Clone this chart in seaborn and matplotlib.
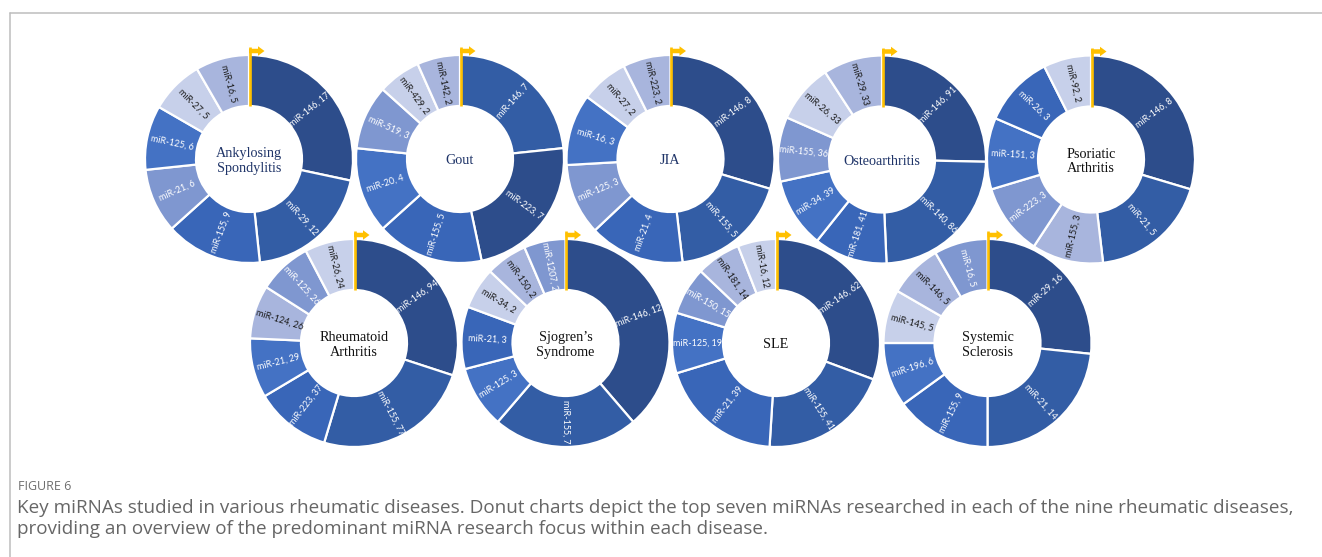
import math
import matplotlib
matplotlib.use("Agg")
import matplotlib.pyplot as plt
from matplotlib.patches import FancyArrow
import seaborn as sns

# ---- data: top seven miRNAs per disease (miRNA, number of studies) ----
diseases = ["Ankylosing\nSpondylitis", "Gout", "JIA", "Osteoarthritis",
            "Psoriatic\nArthritis", "Rheumatoid\nArthritis",
            "Sjogren\u2019s\nSyndrome", "SLE", "Systemic\nSclerosis"]

as_mirnas = ["miR-146", "miR-29", "miR-155", "miR-21", "miR-125", "miR-27", "miR-16"]
as_counts = [17, 12, 9, 6, 6, 5, 5]
gout_mirnas = ["miR-146", "miR-223", "miR-155", "miR-20", "miR-519", "miR-429", "miR-142"]
gout_counts = [7, 7, 5, 4, 3, 2, 2]
jia_mirnas = ["miR-146", "miR-155", "miR-21", "miR-125", "miR-16", "miR-27", "miR-223"]
jia_counts = [8, 5, 4, 3, 3, 2, 2]
oa_mirnas = ["miR-146", "miR-140", "miR-181", "miR-34", "miR-155", "miR-26", "miR-29"]
oa_counts = [91, 86, 41, 39, 36, 33, 33]
psa_mirnas = ["miR-146", "miR-21", "miR-155", "miR-223", "miR-151", "miR-26", "miR-92"]
psa_counts = [8, 5, 3, 3, 3, 3, 2]
ra_mirnas = ["miR-146", "miR-155", "miR-223", "miR-21", "miR-124", "miR-125", "miR-26"]
ra_counts = [94, 77, 37, 29, 26, 26, 24]
ss_mirnas = ["miR-146", "miR-155", "miR-125", "miR-21", "miR-34", "miR-150", "miR-1207"]
ss_counts = [12, 7, 3, 3, 2, 2, 2]
sle_mirnas = ["miR-146", "miR-155", "miR-21", "miR-125", "miR-150", "miR-181", "miR-16"]
sle_counts = [62, 41, 39, 19, 15, 14, 12]
ssc_mirnas = ["miR-29", "miR-21", "miR-155", "miR-196", "miR-145", "miR-146", "miR-16"]
ssc_counts = [16, 14, 9, 6, 5, 5, 5]

all_mirnas = [as_mirnas, gout_mirnas, jia_mirnas, oa_mirnas, psa_mirnas,
              ra_mirnas, ss_mirnas, sle_mirnas, ssc_mirnas]
all_counts = [as_counts, gout_counts, jia_counts, oa_counts, psa_counts,
              ra_counts, ss_counts, sle_counts, ssc_counts]

# ---- styling ----
shades = sns.color_palette(["#2D4D8B", "#335DA5", "#3966B8", "#4472C4",
                            "#7F97D0", "#A8B5DD", "#C7D0EA"])
light_shades = {5, 6}
# shade index of each slice, per donut
shade_idx = [
    [0, 1, 2, 4, 3, 6, 5],
    [1, 0, 2, 3, 4, 6, 5],
    [0, 1, 2, 4, 3, 6, 5],
    [0, 1, 2, 3, 4, 6, 5],
    [0, 1, 5, 4, 3, 2, 6],
    [0, 1, 2, 3, 5, 4, 6],
    [0, 1, 3, 2, 6, 5, 4],
    [0, 1, 2, 3, 4, 5, 6],
    [0, 1, 2, 3, 6, 5, 4],
]
title_colors = ["#1F3468"] * 4 + ["#111111"] * 5

W, H = 1322, 557
centers = [(249, 159), (460, 159), (670.5, 159), (882, 159.5), (1091, 159.5),
           (354, 343), (565.5, 343), (776, 343), (987.5, 343)]
R_OUT, RING = 104, 51

sns.set_theme(style="white")
plt.rcParams["font.family"] = ["DejaVu Sans"]

fig = plt.figure(figsize=(W / 100, H / 100), dpi=100)
ax = fig.add_axes([0, 0, 1, 1])

for i, (name, mirnas, counts) in enumerate(zip(diseases, all_mirnas, all_counts)):
    cx, cy_img = centers[i]
    cy = H - cy_img
    z = 2 + 3 * i
    cols = [shades[k] for k in shade_idx[i]]
    wedges, _ = ax.pie(counts, radius=R_OUT, center=(cx, cy), startangle=90,
                       counterclock=False, colors=cols, frame=True,
                       wedgeprops=dict(width=RING, edgecolor="white", linewidth=1.6))
    for w in wedges:
        w.set_zorder(z)
    r_mid = R_OUT - RING / 2
    for w, m, c, k in zip(wedges, mirnas, counts, shade_idx[i]):
        th = (w.theta1 + w.theta2) / 2
        thr = math.radians(th)
        x = cx + r_mid * math.cos(thr)
        y = cy + r_mid * math.sin(thr)
        rot = ((th + 180) % 360) - 180
        if rot > 90:
            rot -= 180
        elif rot < -90:
            rot += 180
        ax.text(x, y, f"{m}, {c}", rotation=rot, rotation_mode="anchor",
                ha="center", va="center", fontsize=6.5, family="Lato",
                color="#1A1A1A" if k in light_shades else "white", zorder=z + 1)
    ax.text(cx, cy - 2, name, ha="center", va="center", fontsize=10.2,
            family="Liberation Serif", color=title_colors[i],
            linespacing=1.2, zorder=z + 1)
    # gold start marker at 12 o'clock
    y_top = cy + R_OUT + 8
    ax.plot([cx + 0.5, cx + 0.5], [cy + R_OUT - RING, y_top], color="#FFC000",
            lw=1.9, solid_capstyle="butt", zorder=z + 2)
    ax.add_patch(FancyArrow(cx, y_top - 4, 9, 0, width=4.5, head_width=9.5,
                            head_length=6.5, length_includes_head=False,
                            color="#FFC000", lw=0, zorder=z + 2))

# frame lines of the figure panel
ax.plot([10, W], [H - 12.5, H - 12.5], color="#BDBDBD", lw=1.1, zorder=1)
ax.plot([10, 10], [0, H - 12.5], color="#BDBDBD", lw=1.1, zorder=1)

ax.text(18, H - 487, "FIGURE 6", fontsize=9, family="Open Sans",
        color="#6E6E6E", va="center", ha="left")
caption_lines = [
    "Key miRNAs studied in various rheumatic diseases. Donut charts depict the top seven "
    "miRNAs researched in each of the nine rheumatic diseases,",
    "providing an overview of the predominant miRNA research focus within each disease.",
]
for yy, line in zip([508, 529], caption_lines):
    ax.text(17, H - yy, line, fontsize=13.6, family="Open Sans", color="#666666",
            va="center", ha="left")

ax.set_xlim(0, W)
ax.set_ylim(0, H)
ax.set_aspect("auto")
ax.axis("off")
fig.savefig("out.png", dpi=100, facecolor="white")
